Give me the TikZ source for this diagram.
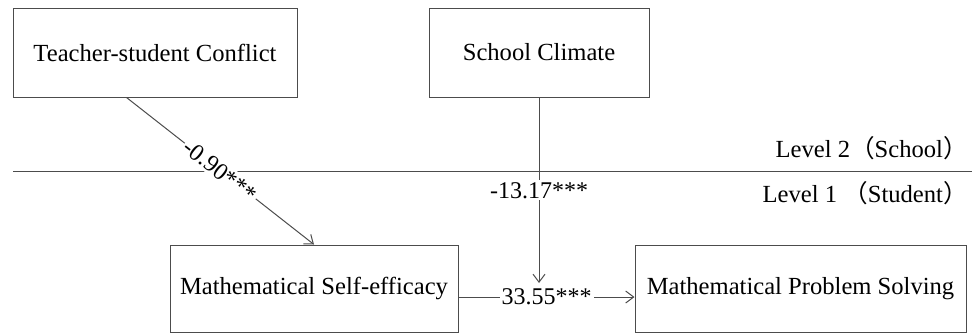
\documentclass[tikz,border=0pt]{standalone}
\usepackage{fontspec}
\setmainfont{Liberation Serif}
\newfontfamily\cjk{Noto Sans CJK SC}
\usetikzlibrary{
    arrows.meta,
    positioning,
    calc
}

\begin{document}
\begin{tikzpicture}[
    x=0.5pt, y=-0.5pt,
    font=\fontsize{12.3}{14}\selectfont,
    var/.style={rectangle, draw=black!70, line width=0.5pt, inner sep=0pt},
    arrow/.style={-{Straight Barb[length=4pt, width=6pt]}, draw=black!70, line width=0.5pt},
    coef/.style={fill=white, inner sep=1pt, font=\fontsize{12}{14}\selectfont},
    level/.style={anchor=east, inner sep=0pt},
]
\useasboundingbox (0,0) rectangle (972,334);

% Level 2 variables
\node[var, minimum width=142pt, minimum height=44.5pt] (conflict) at (155,52.5) {Teacher-student Conflict};
\node[var, minimum width=110pt, minimum height=44.5pt] (climate) at (539,52.5) {School Climate};

% Level 1 variables
\node[var, minimum width=144pt, minimum height=43.5pt] (efficacy) at (314,288.5) {Mathematical Self-efficacy};
\node[var, minimum width=165.5pt, minimum height=43.5pt] (solving) at (800.5,288.5) {Mathematical Problem Solving};

% Level divider
\draw[black!70, line width=0.5pt] (13,171) -- (972,171);
\node[level] (lvtwo) at (968,148) {Level 2{\cjk （}School{\cjk ）}};
\node[level] (lvone) at (968,193) {Level 1 {\cjk （}Student{\cjk ）}};

% Paths
\coordinate (hit) at (climate.south |- 0,283);
\draw[arrow] ($(conflict.south west)!0.4!(conflict.south east)$) -- node[coef, sloped] {-0.90***} (efficacy.north);
\draw[arrow] (climate.south) -- node[coef] {-13.17***} (hit);
\draw[arrow] (efficacy.east |- 0,297) -- node[coef] {33.55***} (solving.west |- 0,297);
\end{tikzpicture}
\end{document}
